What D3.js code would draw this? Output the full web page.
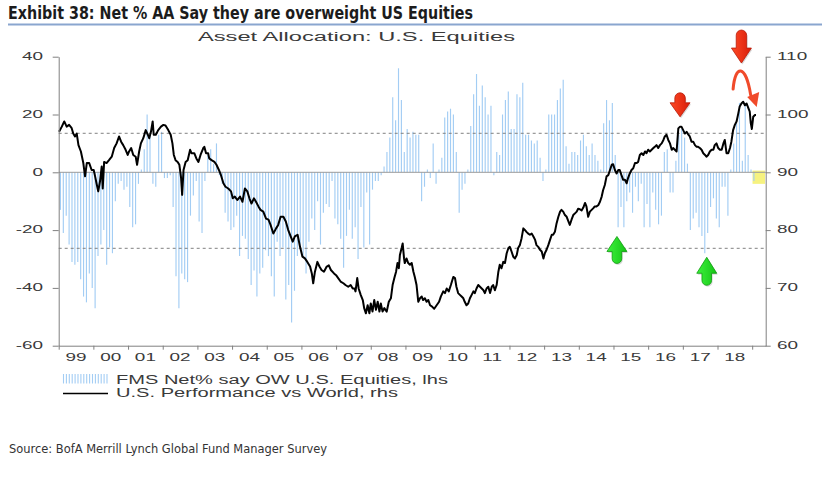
<!DOCTYPE html>
<html><head><meta charset="utf-8">
<script src="https://cdn.jsdelivr.net/npm/d3@7/dist/d3.min.js"></script>
<style>
html,body{margin:0;padding:0;background:#fff;}
svg{display:block;}
text{font-family:"Liberation Sans",Arial,sans-serif;}
</style></head>
<body>
<svg id="chart" width="830" height="482"></svg>
<script>
// ---------------- DATA ----------------
const surveyStartYear = 1999; // monthly survey, Jan 1999 onward
const fmsNetOW = [
 -13,-21,-15,-25,-31,-32,-31,-37,-43,-45,-35,-40,
 -47,-29,-25,-20,-32,-26,-28,-10,-4,-3,-6,-5,
 -12,-19,-18,-4,1,8,20,13,-4,-5,13,14,
 -2,-2,-1,-12,-36,-47,-35,-37,-38,-15,-8,-3,
 -17,-21,-3,6,8,3,10,-1,-4,-14,-17,-20,
 -19,-15,-29,-22,-23,-30,-39,-34,-43,-35,-33,-27,
 -29,-36,-43,-24,-29,-26,-44,-39,-52,-41,-29,-26,
 -29,-35,-24,-16,-20,-10,-25,-14,-11,-12,-3,-16,
 -18,-23,-33,-22,-13,-23,-19,-30,-12,-26,-7,-25,
 -6,-3,-3,-1,2,7,12,26,18,36,25,7,
 15,12,14,13,13,-10,-5,1,-2,10,-4,1,
 5,19,21,22,20,7,-14,-6,-4,1,16,27,
 34,23,30,26,20,23,-1,7,6,20,25,28,
 15,15,27,26,31,13,13,11,10,11,5,-3,
 1,20,20,20,25,29,32,9,3,7,7,6,
 11,13,9,6,10,6,4,1,17,25,18,24,
 6,-19,-12,-19,-10,-7,-14,-5,-10,-4,-19,-11,
 -19,-7,-13,-18,-15,7,8,-7,-7,4,13,15,
 12,3,-20,-16,-14,-19,-22,-28,-21,-12,-9,-16,
 -19,-5,-5,-15,1,10,17,24,4,24,6,1,
 -3
];

const perfDates = [
 1999.01,1999.09,1999.16,1999.23,1999.30,1999.37,1999.42,1999.47,1999.52,1999.57,1999.64,1999.71,1999.76,1999.81,1999.88,1999.95,
 2000.01,2000.05,2000.09,2000.14,2000.19,2000.24,2000.27,2000.31,2000.38,2000.45,2000.53,2000.60,2000.67,2000.74,2000.80,2000.86,2000.93,2000.99,
 2001.03,2001.09,2001.15,2001.22,2001.26,2001.32,2001.37,2001.44,2001.51,2001.57,2001.61,2001.66,2001.71,2001.74,2001.80,2001.87,2001.95,
 2002.02,2002.08,2002.16,2002.23,2002.28,2002.32,2002.37,2002.43,2002.48,2002.53,2002.56,2002.60,2002.66,2002.72,2002.79,2002.83,2002.91,2002.97,
 2003.03,2003.09,2003.17,2003.20,2003.25,2003.31,2003.34,2003.41,2003.49,2003.55,2003.62,2003.68,2003.75,2003.81,2003.89,2003.97,
 2004.02,2004.08,2004.15,2004.23,2004.30,2004.37,2004.44,2004.50,2004.56,2004.63,2004.69,2004.76,2004.82,2004.90,2004.98,
 2005.05,2005.11,2005.19,2005.27,2005.33,2005.40,2005.48,2005.55,2005.62,2005.69,2005.75,2005.81,2005.89,2005.96,
 2006.03,2006.10,2006.17,2006.25,2006.30,2006.34,2006.39,2006.46,2006.52,2006.58,2006.65,2006.73,2006.79,2006.85,2006.94,
 2007.00,2007.06,2007.13,2007.21,2007.27,2007.35,2007.42,2007.48,2007.53,2007.56,2007.61,2007.65,2007.71,2007.77,2007.81,2007.86,2007.91,2007.96,
 2008.00,2008.05,2008.10,2008.15,2008.20,2008.25,2008.29,2008.34,2008.39,2008.46,2008.52,2008.58,2008.63,2008.68,2008.73,2008.77,2008.81,2008.84,2008.89,2008.92,2008.96,2008.98,
 2009.03,2009.08,2009.13,2009.18,2009.23,2009.27,2009.32,2009.37,2009.42,2009.47,2009.51,2009.56,2009.61,2009.66,2009.71,2009.76,2009.83,2009.90,2009.97,
 2010.02,2010.09,2010.14,2010.19,2010.25,2010.31,2010.38,2010.43,2010.47,2010.52,2010.57,2010.62,2010.67,2010.71,2010.76,2010.81,2010.86,2010.91,2010.96,
 2011.00,2011.05,2011.10,2011.15,2011.20,2011.25,2011.29,2011.34,2011.39,2011.44,2011.49,2011.53,2011.58,2011.63,2011.68,2011.72,2011.77,2011.82,2011.87,2011.92,2011.97,
 2012.01,2012.06,2012.11,2012.16,2012.21,2012.25,2012.30,2012.35,2012.40,2012.45,2012.49,2012.54,2012.59,2012.64,2012.69,2012.74,2012.78,2012.83,2012.88,2012.93,2012.98,
 2013.02,2013.07,2013.12,2013.17,2013.22,2013.26,2013.31,2013.36,2013.41,2013.46,2013.50,2013.55,2013.60,2013.65,2013.70,2013.74,2013.79,2013.84,2013.89,2013.94,2013.98,
 2014.03,2014.08,2014.13,2014.18,2014.22,2014.27,2014.32,2014.37,2014.42,2014.46,2014.51,2014.56,2014.61,2014.66,2014.70,2014.75,2014.80,2014.85,2014.90,2014.95,2014.99,
 2015.04,2015.09,2015.14,2015.18,2015.23,2015.28,2015.33,2015.38,2015.42,2015.47,2015.52,2015.57,2015.62,2015.67,2015.71,2015.76,2015.81,2015.86,2015.91,2015.95,
 2016.00,2016.05,2016.10,2016.15,2016.19,2016.24,2016.29,2016.34,2016.39,2016.44,2016.48,2016.53,2016.58,2016.63,2016.68,2016.72,2016.77,2016.82,2016.87,2016.92,2016.96,
 2017.01,2017.06,2017.11,2017.16,2017.20,2017.25,2017.30,2017.35,2017.40,2017.44,2017.49,2017.54,2017.59,2017.64,2017.68,2017.73,2017.78,2017.83,2017.88,2017.92,2017.97,
 2018.02,2018.07,2018.12,2018.17,2018.21,2018.26,2018.31,2018.36,2018.40,2018.45,2018.50,2018.55,2018.60,2018.64,2018.69,2018.74,2018.79,2018.84,2018.89,2018.93,2018.96,2018.99,
 2019.03,2019.08,2019.11
];
const perfValues = [
 97.0,97.9,98.8,97.9,98.2,97.7,96.7,96.2,96.7,94.7,93.6,91.6,89.3,91.6,91.6,90.4,
 90.4,89.3,88.1,86.7,88.4,91.0,87.2,91.8,91.6,92.1,92.7,94.2,95.0,96.2,95.3,94.7,93.9,93.0,
 93.6,94.2,93.0,92.7,91.3,93.6,95.0,95.9,97.3,96.5,95.9,97.0,98.8,96.5,96.5,97.3,97.9,
 98.2,98.1,97.3,96.5,95.0,93.0,92.1,91.8,91.3,89.0,86.1,90.4,91.8,92.1,93.9,93.3,93.3,92.4,
 91.8,93.0,94.2,94.4,93.3,93.3,92.4,92.1,91.8,91.3,90.4,89.5,88.1,87.5,87.2,86.7,
 85.5,85.8,85.2,85.8,84.9,87.2,86.7,85.5,84.6,85.5,84.9,84.1,83.5,83.2,82.0,
 81.8,80.9,79.4,80.3,80.9,82.3,82.3,81.5,80.0,78.9,78.0,78.9,79.2,77.1,
 75.4,75.1,74.5,73.7,72.5,70.8,72.8,74.5,73.7,73.1,72.8,73.7,73.9,73.1,72.5,
 72.2,71.7,71.1,70.8,70.5,70.2,70.5,69.9,69.9,69.4,71.7,69.9,68.8,67.9,66.5,65.6,67.0,65.6,
 67.3,65.9,67.9,66.2,67.6,65.9,67.3,65.9,66.5,65.9,67.6,68.2,70.5,71.7,72.8,74.3,73.4,75.7,76.9,77.7,75.1,74.3,
 75.1,74.3,74.0,74.3,72.8,71.9,70.5,67.6,68.2,68.5,67.9,68.2,67.6,67.9,67.0,66.8,66.4,67.0,67.6,
 68.5,69.4,69.1,69.9,69.4,70.5,71.9,71.7,70.2,69.1,68.8,68.5,68.2,67.6,67.0,67.3,68.2,68.8,69.4,
 69.1,69.9,70.5,70.2,69.9,69.6,69.1,69.9,70.2,69.1,70.2,70.5,69.6,70.5,72.8,74.0,73.4,74.5,74.3,76.0,76.9,
 77.1,76.3,75.4,75.1,75.7,76.9,77.4,78.6,80.3,80.0,79.7,79.4,79.2,79.4,78.9,78.3,77.4,77.1,76.6,76.3,75.1,
 76.0,76.6,77.4,78.3,79.2,79.2,79.7,81.2,82.3,83.2,83.5,83.2,82.6,82.3,81.5,80.9,81.8,82.6,82.9,83.2,83.7,
 83.6,83.4,83.9,84.7,84.1,82.3,83.2,83.5,83.8,84.1,84.1,84.3,84.9,85.8,86.9,87.8,89.3,89.5,90.4,91.3,91.4,
 90.4,89.8,90.4,90.4,89.5,88.7,88.7,88.1,89.0,89.8,90.4,90.7,91.6,91.6,91.8,93.0,93.3,93.0,93.6,93.3,
 93.9,93.6,93.9,94.2,94.4,94.7,94.2,94.7,95.0,95.6,96.2,96.5,95.6,95.0,93.9,94.2,93.9,93.6,97.6,97.9,97.9,
 97.3,96.7,97.0,96.5,96.2,95.3,95.3,94.7,94.4,94.4,94.2,93.9,93.3,93.0,92.7,93.0,93.6,93.9,93.9,94.7,95.0,
 94.2,93.9,93.9,95.0,95.6,93.3,93.3,94.2,95.3,97.3,98.2,98.8,100.2,101.4,101.9,102.2,101.6,101.9,101.1,100.5,98.5,97.5,
 99.6,99.9,99.9
];

const yearTicks = d3.range(1999, 2020);
const yearLabels = ["99","00","01","02","03","04","05","06","07","08","09","10","11","12","13","14","15","16","17","18"];
const lhsTicks = [40, 20, 0, -20, -40, -60];
const rhsTicks = [110, 100, 90, 80, 70, 60];
const lhsRefLines = [13.5, -26.3];

const titleText = "Exhibit 38: Net % AA Say they are overweight US Equities";
const chartTitle = "Asset Allocation: U.S. Equities";
const legendLabels = ["FMS Net% say OW U.S. Equities, lhs", "U.S. Performance vs World, rhs"];
const sourceText = "Source:  BofA Merrill Lynch Global Fund Manager Survey";

// annotations (date, rhs value anchors)
const downArrows = [{year: 2016.92, rhs: 99.6, head: 14, len: 24}, {year: 2018.69, rhs: 108.9, head: 15, len: 33}];
const upArrows = [{year: 2015.10, rhs: 78.9, head: 15, len: 27}, {year: 2017.69, rhs: 75.3, head: 16, len: 28}];
const arcArrow = {start: [2018.45, 104.4], peak: [2018.67, 107.7], end: [2019.13, 101.3]};
const highlightBox = {x0: 2019.01, x1: 2019.37, r0: 90.3, r1: 88.0};

// ---------------- CHART ----------------
const svg = d3.select("#chart");
const L = 58.7, R = 765.7, T = 56.7, B = 345.7;
const x = d3.scaleLinear().domain([1999, 2019.39]).range([L, R]);
const yL = d3.scaleLinear().domain([-60, 40]).range([B, T]);
const yR = d3.scaleLinear().domain([60, 110]).range([B, T]);
const axisCol = "#808080", textCol = "#3a3a3a";

function stretched(px, py, str, anchor, size, sx, col) {
  svg.append("text")
    .attr("transform", `translate(${px},${py}) scale(${sx},1)`)
    .attr("text-anchor", anchor).attr("font-size", size)
    .attr("fill", col || textCol).text(str);
}

// header
svg.append("text").attr("x", 8).attr("y", 19)
  .attr("font-size", 17).attr("font-weight", "bold")
  .style("font-family", "'Liberation Sans Narrow','DejaVu Sans Condensed','Arial Narrow',sans-serif")
  .attr("fill", "#1c1c1c")
  .attr("textLength", 465).attr("lengthAdjust", "spacingAndGlyphs")
  .text(titleText);
svg.append("line").attr("x1", 8).attr("x2", 822).attr("y1", 24.5).attr("y2", 24.5)
  .attr("stroke", "#8aa6cf").attr("stroke-width", 2);

svg.append("text").attr("x", 198).attr("y", 40.7).attr("font-size", 12.5)
  .attr("fill", textCol).attr("textLength", 317).attr("lengthAdjust", "spacingAndGlyphs")
  .text(chartTitle);

// highlight box
svg.append("rect")
  .attr("x", x(highlightBox.x0)).attr("y", yR(highlightBox.r0))
  .attr("width", x(highlightBox.x1) - x(highlightBox.x0))
  .attr("height", yR(highlightBox.r1) - yR(highlightBox.r0))
  .attr("fill", "#f4f06a").attr("opacity", 0.85);

// bars
svg.append("g").selectAll("line").data(fmsNetOW).join("line")
  .attr("x1", (d, i) => x(surveyStartYear + (i + 0.6) / 12))
  .attr("x2", (d, i) => x(surveyStartYear + (i + 0.6) / 12))
  .attr("y1", yL(0)).attr("y2", d => yL(d))
  .attr("stroke", "#a3cdf4").attr("stroke-width", 1.15);

// zero line and reference lines
svg.append("line").attr("x1", L).attr("x2", R).attr("y1", yL(0)).attr("y2", yL(0))
  .attr("stroke", "#9a9a9a").attr("stroke-width", 1);
svg.append("g").selectAll("line").data(lhsRefLines).join("line")
  .attr("x1", L).attr("x2", R).attr("y1", d => yL(d)).attr("y2", d => yL(d))
  .attr("stroke", "#808080").attr("stroke-width", 1).attr("stroke-dasharray", "3,3");

// performance line
const perf = perfDates.map((d, i) => [d, perfValues[i]]);
svg.append("path").datum(perf)
  .attr("d", d3.line().x(d => x(d[0])).y(d => yR(d[1])))
  .attr("fill", "none").attr("stroke", "#000").attr("stroke-width", 2).attr("stroke-linejoin", "round");

// axes
function styleAxis(g) {
  g.selectAll("path,line").attr("stroke", axisCol).attr("stroke-width", 1);
}
svg.append("g").attr("transform", `translate(${L},0)`)
  .call(d3.axisLeft(yL).tickValues(lhsTicks).tickSize(6).tickSizeOuter(0).tickFormat(""))
  .call(styleAxis);
svg.append("g").attr("transform", `translate(${R},0)`)
  .call(d3.axisRight(yR).tickValues(rhsTicks).tickSize(5).tickSizeOuter(0).tickFormat(""))
  .call(styleAxis);
svg.append("g").attr("transform", `translate(0,${B})`)
  .call(d3.axisBottom(x).tickValues(yearTicks).tickSize(4).tickSizeOuter(0).tickFormat(""))
  .call(styleAxis);

lhsTicks.forEach(v => stretched(43, yL(v) + 3.2, String(v), "end", 11, 1.72));
rhsTicks.forEach(v => stretched(777, yR(v) + 3.2, String(v), "start", 11, 1.72));
yearLabels.forEach((s, i) => stretched(x(yearTicks[i] + 0.5), 361, s, "middle", 11, 1.72));

// legend
const lg = svg.append("g");
lg.selectAll("line").data(d3.range(16)).join("line")
  .attr("x1", d => 63.5 + d * 2.9).attr("x2", d => 63.5 + d * 2.9)
  .attr("y1", 374).attr("y2", 383.5)
  .attr("stroke", "#a3cdf4").attr("stroke-width", 1.1);
lg.append("line").attr("x1", 63).attr("x2", 108).attr("y1", 393.5).attr("y2", 393.5)
  .attr("stroke", "#000").attr("stroke-width", 1.6);
[[legendLabels[0], 384, 332], [legendLabels[1], 396.5, 282]].forEach(([t, yy, w]) => {
  lg.append("text").attr("x", 116).attr("y", yy).attr("font-size", 12.5).attr("fill", textCol)
    .attr("textLength", w).attr("lengthAdjust", "spacingAndGlyphs").text(t);
});

// source
svg.append("text").attr("x", 9).attr("y", 453).attr("font-size", 13)
  .style("font-family", "'Liberation Sans Narrow','DejaVu Sans Condensed','Arial Narrow',sans-serif")
  .attr("fill", "#333").attr("textLength", 318).attr("lengthAdjust", "spacingAndGlyphs")
  .text(sourceText);

// annotations
const defs = svg.append("defs");
const rg = defs.append("linearGradient").attr("id", "redg").attr("x1", 0).attr("x2", 1).attr("y1", 0).attr("y2", 0);
rg.append("stop").attr("offset", "0%").attr("stop-color", "#ff4a26");
rg.append("stop").attr("offset", "100%").attr("stop-color", "#d81c08");
const gg = defs.append("linearGradient").attr("id", "greeng").attr("x1", 0).attr("x2", 1).attr("y1", 0).attr("y2", 0);
gg.append("stop").attr("offset", "0%").attr("stop-color", "#3df23d");
gg.append("stop").attr("offset", "100%").attr("stop-color", "#16c416");

function arrowPath(head, len, hw, sw) {
  // tip at (0,0), pointing +y direction reversed later; shaft toward -y
  const r = sw;
  return `M0,0 L${-hw},${-head} L${-sw},${-head} L${-sw},${-(len - r)} A${r},${r} 0 0 1 ${sw},${-(len - r)} L${sw},${-head} L${hw},${-head} Z`;
}
downArrows.forEach(a => {
  svg.append("path").attr("d", arrowPath(a.head, a.len, 10, 5.2))
    .attr("transform", `translate(${x(a.year) + 1},${yR(a.rhs) + 1.5})`)
    .attr("fill", "#000").attr("opacity", 0.15);
  svg.append("path").attr("d", arrowPath(a.head, a.len, 10, 5.2))
    .attr("transform", `translate(${x(a.year)},${yR(a.rhs)})`)
    .attr("fill", "url(#redg)").attr("stroke", "#b81a08").attr("stroke-width", 0.8);
});
upArrows.forEach(a => {
  svg.append("path").attr("d", arrowPath(a.head, a.len, 10, 4.8))
    .attr("transform", `translate(${x(a.year) + 1},${yR(a.rhs) + 1.5}) scale(1,-1)`)
    .attr("fill", "#000").attr("opacity", 0.15);
  svg.append("path").attr("d", arrowPath(a.head, a.len, 10, 4.8))
    .attr("transform", `translate(${x(a.year)},${yR(a.rhs)}) scale(1,-1)`)
    .attr("fill", "url(#greeng)").attr("stroke", "#0c9a0c").attr("stroke-width", 0.8);
});
{
  const s = [x(arcArrow.start[0]), yR(arcArrow.start[1])];
  const p = [x(arcArrow.peak[0]), yR(arcArrow.peak[1])];
  const e = [x(arcArrow.end[0]), yR(arcArrow.end[1])];
  const c1 = [s[0] + 2, p[1] - 6], c2 = [p[0] + 5, p[1] - 6];
  const mid = [e[0] - 6, e[1] - 12];
  svg.append("path")
    .attr("d", `M${s[0]},${s[1]} C${c1[0]},${c1[1]} ${c2[0]},${c2[1]} ${mid[0]},${mid[1]}`)
    .attr("fill", "none").attr("stroke", "#f04a2a").attr("stroke-width", 3).attr("stroke-linecap", "round");
  svg.append("path")
    .attr("d", `M${e[0]},${e[1]} L${e[0] - 9.5},${e[1] - 10} L${e[0] + 2.5},${e[1] - 15} Z`)
    .attr("fill", "#f04a2a");
}
</script>
</body></html>
